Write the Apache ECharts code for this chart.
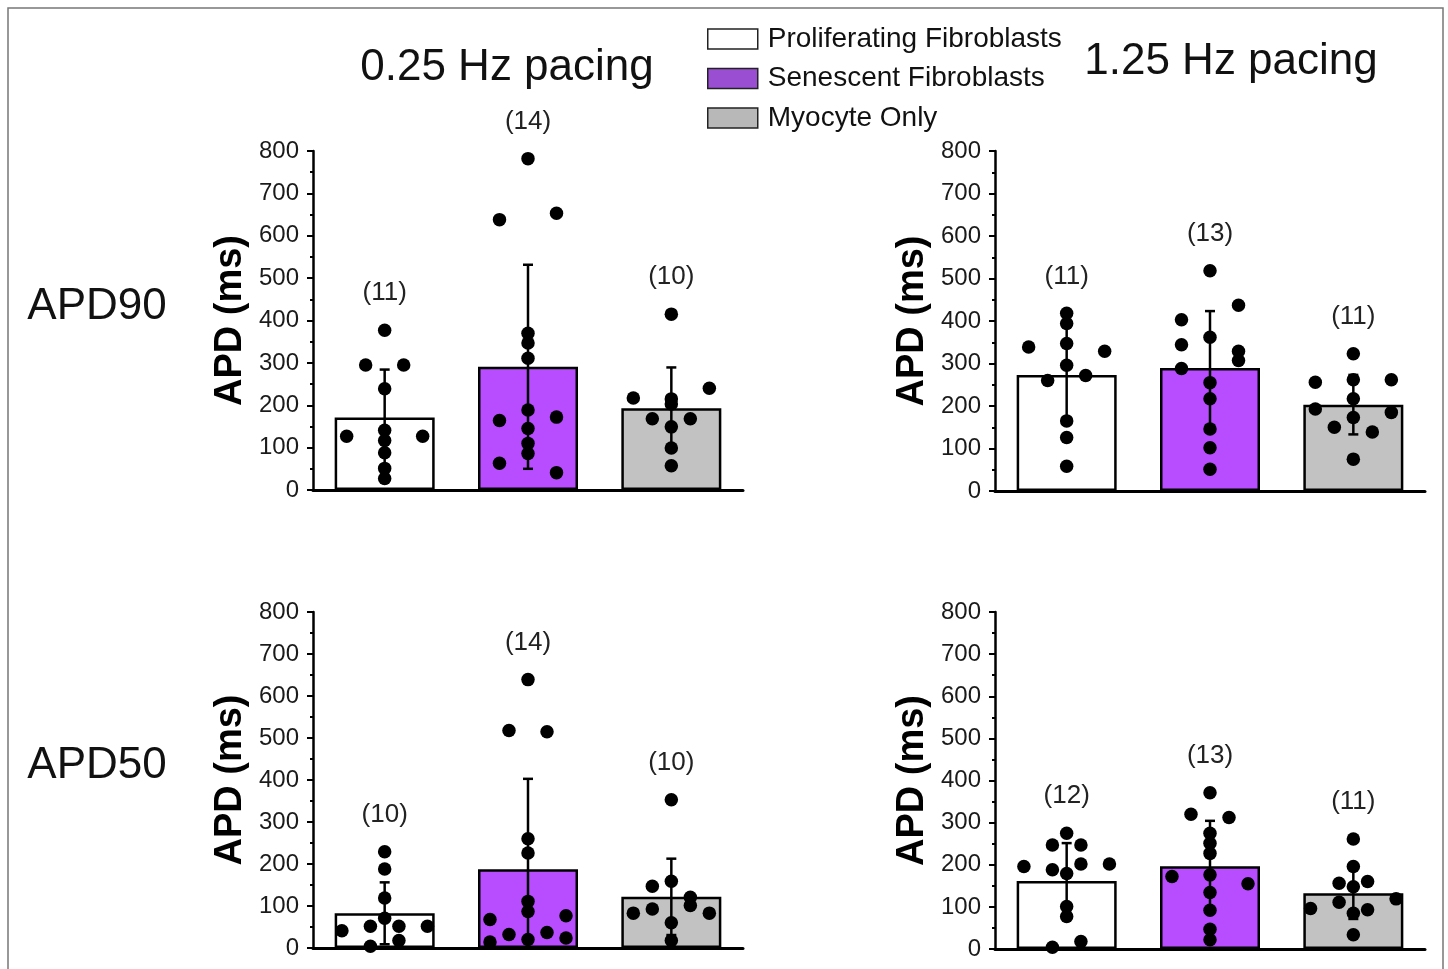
<!DOCTYPE html>
<html><head><meta charset="utf-8">
<script src="https://cdn.jsdelivr.net/npm/echarts@6/dist/echarts.min.js"></script>
<style>html,body{margin:0;padding:0;background:#fff}#c{width:1448px;height:969px}</style>
</head><body><div id="c"></div>
<script>
// ---------- data ----------
const groups = ['Proliferating Fibroblasts', 'Senescent Fibroblasts', 'Myocyte Only'];
const yTickLabels = ['0','100','200','300','400','500','600','700','800'];
const columnTitles = ['0.25 Hz pacing', '1.25 Hz pacing'];
const rowTitles = ['APD90', 'APD50'];

// APD90, 0.25 Hz
const apd90_025_prolif = [377,295,295,239,127,127,141,117,88,51,27];
const apd90_025_senes  = [782,638,653,370,347,311,189,145,110,86,164,172,63,41];
const apd90_025_myo    = [415,217,240,215,203,168,168,149,99,57];
// APD90, 1.25 Hz
const apd90_125_prolif = [418,394,347,296,165,126,58,339,329,260,272];
const apd90_125_senes  = [518,362,255,217,146,102,51,403,344,288,437,329,307];
const apd90_125_myo    = [323,262,217,173,75,256,193,150,262,185,139];
// APD50, 0.25 Hz
const apd50_025_prolif = [229,188,119,71,41,52,4,52,18,52];
const apd50_025_senes  = [639,260,226,111,87,20,518,515,68,14,32,37,77,24];
const apd50_025_myo    = [353,159,60,18,147,93,83,121,101,83];
// APD50, 1.25 Hz
const apd50_125_prolif = [275,179,101,77,247,188,247,202,196,202,4,18];
const apd50_125_senes  = [371,275,251,227,176,134,92,47,22,320,312,172,155];
const apd50_125_myo    = [261,196,148,85,34,156,111,160,93,96,119];

// horizontal jitter slot of each dot (same order as values)
const jit90_025_prolif = [0,-1,1,0,-2,2,0,0,0,0,0];
const jit90_025_senes  = [0,-1.5,1.5,0,0,0,0,0,0,0,-1.5,1.5,-1.5,1.5];
const jit90_025_myo    = [0,-2,2,0,0,-1,1,0,0,0];
const jit90_125_prolif = [0,0,0,0,0,0,0,-2,2,-1,1];
const jit90_125_senes  = [0,0,0,0,0,0,0,-1.5,-1.5,-1.5,1.5,1.5,1.5];
const jit90_125_myo    = [0,0,0,0,0,-2,-2,-1,2,2,1];
const jit50_025_prolif = [0,0,0,0,-2.25,-0.75,-0.75,0.75,0.75,2.25];
const jit50_025_senes  = [0,0,0,0,0,0,-1,1,-2,-2,-1,1,2,2];
const jit50_025_myo    = [0,0,0,0,-1,-1,-2,1,1,2];
const jit50_125_prolif = [0,0,0,0,-0.75,-0.75,0.75,0.75,-2.25,2.25,-0.75,0.75];
const jit50_125_senes  = [0,0,0,0,0,0,0,0,0,-1,1,-2,2];
const jit50_125_myo    = [0,0,0,0,0,-0.75,-0.75,0.75,0.75,-2.25,2.25];

// ---------- layout / style ----------
const panelValues = [
  [apd90_025_prolif, apd90_025_senes, apd90_025_myo],
  [apd90_125_prolif, apd90_125_senes, apd90_125_myo],
  [apd50_025_prolif, apd50_025_senes, apd50_025_myo],
  [apd50_125_prolif, apd50_125_senes, apd50_125_myo]
];
const panelJitter = [
  [jit90_025_prolif, jit90_025_senes, jit90_025_myo],
  [jit90_125_prolif, jit90_125_senes, jit90_125_myo],
  [jit50_025_prolif, jit50_025_senes, jit50_025_myo],
  [jit50_125_prolif, jit50_125_senes, jit50_125_myo]
];
const gridRects = [
  {left: 313, top: 151, width: 430, height: 339},
  {left: 995, top: 151, width: 430, height: 340},
  {left: 313, top: 612, width: 430, height: 336},
  {left: 995, top: 612, width: 430, height: 337}
];
const barColors = ['#ffffff', '#b84cff', '#c2c2c2'];
const legendColors = ['#ffffff', '#9a4fd3', '#b8b8b8'];
const FONT = "'Liberation Sans', Arial, sans-serif";
const JIT_UNIT = 0.1326;

const mean = a => a.reduce((s, v) => s + v, 0) / a.length;
const sd = a => { const m = mean(a); return Math.sqrt(a.reduce((s, v) => s + (v - m) * (v - m), 0) / (a.length - 1)); };

const grid = [], xAxis = [], yAxis = [], series = [];
gridRects.forEach((g, p) => {
  grid.push(Object.assign({containLabel: false}, g));
  xAxis.push({
    type: 'category', gridIndex: p, data: groups,
    axisLine: {show: true, lineStyle: {color: '#000', width: 3}},
    axisTick: {show: false}, axisLabel: {show: false}, splitLine: {show: false}
  });
  xAxis.push({type: 'value', gridIndex: p, min: -0.5, max: 2.5, show: false});
  yAxis.push({
    type: 'value', gridIndex: p, min: 0, max: 800, interval: 100,
    name: 'APD (ms)', nameLocation: 'middle', nameGap: 63,
    nameTextStyle: {fontFamily: FONT, fontSize: 38, fontWeight: 'bold', color: '#000'},
    axisLine: {show: true, onZero: false, lineStyle: {color: '#000', width: 2.5}},
    axisTick: {show: true, inside: false, length: 6, lineStyle: {color: '#000', width: 2}},
    minorTick: {show: true, splitNumber: 2, length: 3, lineStyle: {color: '#000', width: 2}},
    splitLine: {show: false}, minorSplitLine: {show: false},
    axisLabel: {fontFamily: FONT, fontSize: 24, color: '#1a1a1a', margin: 14,
      formatter: v => yTickLabels[Math.round(v / 100)]}
  });
  const vals = panelValues[p];
  // bars (one series per group, overlaid)
  groups.forEach((name, gi) => {
    series.push({
      type: 'bar', name, xAxisIndex: 2 * p, yAxisIndex: p,
      barWidth: 100, barGap: '-100%', z: 2,
      itemStyle: {color: barColors[gi], borderColor: '#000', borderWidth: 2.5},
      data: groups.map((_, k) => k === gi ? +mean(vals[gi]).toFixed(2) : '-'),
      emphasis: {disabled: true}, silent: true
    });
  });
  // error bars
  series.push({
    type: 'custom', xAxisIndex: 2 * p + 1, yAxisIndex: p, z: 3, silent: true, clip: true,
    data: vals.map((a, gi) => [gi, mean(a), sd(a)]),
    renderItem: (params, api) => {
      const x = api.value(0), m = api.value(1), s = api.value(2);
      const hi = api.coord([x, m + s]);
      const lowVal = m - s;
      const lo = api.coord([x, Math.max(0, lowVal)]);
      const st = {stroke: '#000', lineWidth: 2.5};
      const cap = 5;
      const ch = [
        {type: 'line', shape: {x1: hi[0], y1: hi[1], x2: lo[0], y2: lo[1]}, style: st},
        {type: 'line', shape: {x1: hi[0] - cap, y1: hi[1], x2: hi[0] + cap, y2: hi[1]}, style: st}
      ];
      if (lowVal > 0) ch.push({type: 'line', shape: {x1: lo[0] - cap, y1: lo[1], x2: lo[0] + cap, y2: lo[1]}, style: st});
      return {type: 'group', children: ch};
    }
  });
  // dots
  series.push({
    type: 'scatter', xAxisIndex: 2 * p + 1, yAxisIndex: p, z: 4, silent: true,
    symbolSize: 13.5, itemStyle: {color: '#000', opacity: 1},
    data: vals.flatMap((a, gi) => a.map((v, k) => [gi + panelJitter[p][gi][k] * JIT_UNIT, v]))
  });
  // n labels
  series.push({
    type: 'custom', xAxisIndex: 2 * p + 1, yAxisIndex: p, z: 5, silent: true, clip: false,
    data: vals.map((a, gi) => [gi, Math.max(...a), a.length]),
    renderItem: (params, api) => {
      const c = api.coord([api.value(0), api.value(1)]);
      return {type: 'text', x: c[0], y: c[1] - 37,
        style: {text: '(' + api.value(2) + ')', font: '26px ' + FONT, fill: '#222',
          textAlign: 'center', textVerticalAlign: 'middle', verticalAlign: 'middle'}};
    }
  });
});

const txt = (text, x, y, size) => ({type: 'text', x, y, silent: true,
  style: {text, font: size + 'px ' + FONT, fill: '#111', textAlign: 'center',
    textVerticalAlign: 'middle', verticalAlign: 'middle'}});

const option = {
  animation: false,
  backgroundColor: '#fff',
  grid, xAxis, yAxis, series,
  legend: {
    orient: 'vertical', left: 707, top: 25, padding: 0, itemWidth: 50, itemHeight: 20, itemGap: 11.5,
    icon: 'rect', selectedMode: false,
    textStyle: {fontFamily: FONT, fontSize: 28, color: '#111', padding: [0, 0, 0, 5]},
    data: groups.map((name, gi) => ({name, itemStyle: {color: legendColors[gi], borderColor: '#222', borderWidth: 1.5}}))
  },
  graphic: [
    {type: 'rect', silent: true, shape: {x: 8, y: 8, width: 1435, height: 1000},
      style: {fill: 'none', stroke: '#777', lineWidth: 1.5}},
    txt(columnTitles[0], 507, 68, 44),
    txt(columnTitles[1], 1231, 62, 44),
    txt(rowTitles[0], 97, 307, 44),
    txt(rowTitles[1], 97, 766, 44)
  ]
};
const chart = echarts.init(document.getElementById('c'), null, {renderer: 'canvas'});
chart.setOption(option);
</script></body></html>
